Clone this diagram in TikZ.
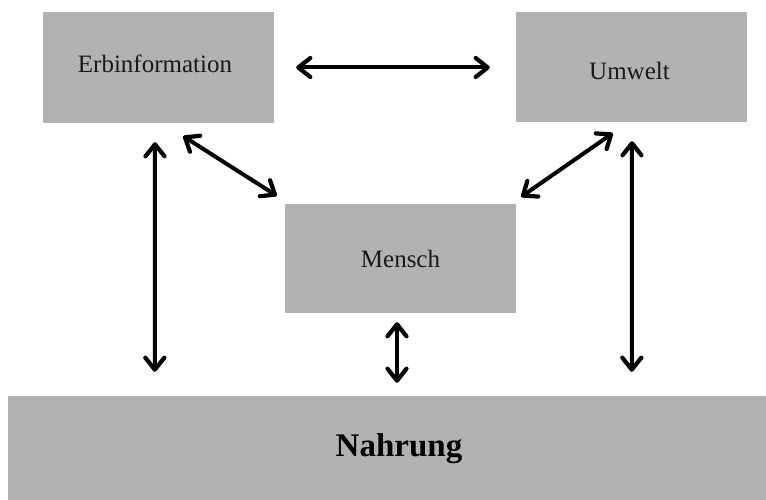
\documentclass[tikz,border=0pt]{standalone}
\usepackage{fontspec}
\setmainfont{Liberation Serif}
\usetikzlibrary{arrows.meta}

\definecolor{boxgray}{RGB}{178,178,178}
\definecolor{ink}{RGB}{25,25,25}

\tikzset{
  graybox/.style={draw=none, fill=boxgray, inner sep=0pt, minimum width=#1},
  lbl/.style={anchor=base, inner sep=0pt, text=ink, font=\fontsize{25}{30}\selectfont},
  biglbl/.style={anchor=base, inner sep=0pt, text=black, font=\fontsize{33}{40}\selectfont\bfseries},
  dbl/.style={line width=4pt, line cap=round, line join=round,
    >={Straight Barb[length=12pt, width=19pt, line width=4.2pt, round]}, <->}
}

\begin{document}
\begin{tikzpicture}[x=1pt, y=1pt]
  \useasboundingbox (0,0) rectangle (766,500);

  % boxes
  \node[graybox=231pt, minimum height=111pt] (erb) at (158.5,432.5) {};
  \node[graybox=231pt, minimum height=110pt] (umw) at (631.5,433) {};
  \node[graybox=231pt, minimum height=109pt] (mensch) at (400.5,241.5) {};
  \node[graybox=758pt, minimum height=104pt] (nahrung) at (387,52) {};

  % labels
  \node[lbl] (erbT) at (155,427) {Erbinformation};
  \node[lbl] (umwT) at (629.5,420) {Umwelt};
  \node[lbl] (menschT) at (400.5,232) {Mensch};
  \node[biglbl] (nahrungT) at (399,43) {Nahrung};

  % double-headed connectors
  \draw[dbl] ([xshift=22pt]erb.east) -- ([xshift=-26pt,yshift=-0.5pt]umw.west);
  \draw[dbl] ([xshift=-91pt,yshift=-13pt]erb.south east) -- ([xshift=-8pt,yshift=8pt]mensch.north west);
  \draw[dbl] ([xshift=97pt,yshift=-11pt]umw.south west) -- ([xshift=5pt,yshift=7pt]mensch.north east);
  \draw[dbl] ([xshift=-3.5pt,yshift=-19pt]erb.south) -- ([xshift=147pt,yshift=24pt]nahrung.north west);
  \draw[dbl] ([xshift=0.5pt,yshift=-19pt]umw.south) -- ([xshift=624pt,yshift=24pt]nahrung.north west);
  \draw[dbl] ([xshift=-3.5pt,yshift=-9pt]mensch.south) -- ([xshift=10pt,yshift=13pt]nahrung.north);
\end{tikzpicture}
\end{document}
